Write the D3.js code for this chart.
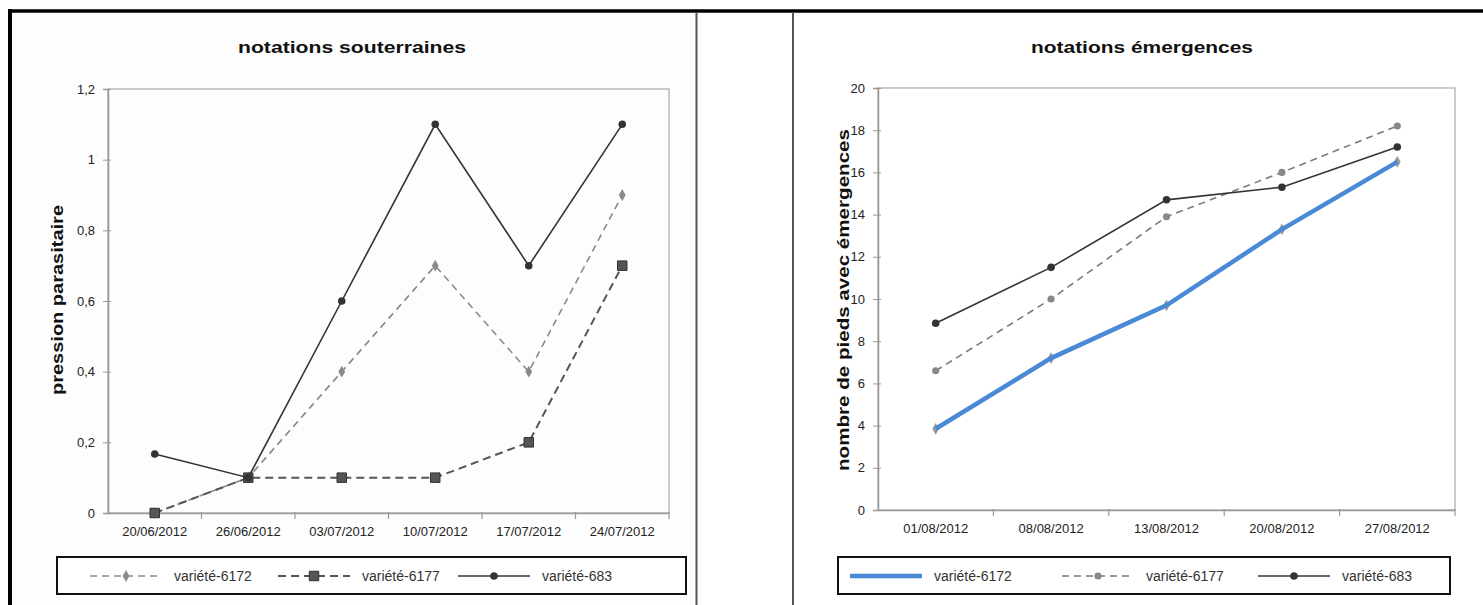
<!DOCTYPE html>
<html>
<head>
<meta charset="utf-8">
<script src="https://cdn.jsdelivr.net/npm/d3@7"></script>
<style>
  body { margin: 0; background: #fff; }
  svg { display: block; font-family: "Liberation Sans", Arial, sans-serif; }
  .title, .ytitle { font-weight: bold; fill: #111; }
  .tick text { fill: #222; }
</style>
</head>
<body>
<svg id="canvas" width="1483" height="605"></svg>
<script>
// left chart : notations souterraines
const souDates = ["20/06/2012", "26/06/2012", "03/07/2012", "10/07/2012", "17/07/2012", "24/07/2012"];
const sou6172 = [0, 0.1, 0.4, 0.7, 0.4, 0.9];
const sou6177 = [0, 0.1, 0.1, 0.1, 0.2, 0.7];
const sou683 = [0.167, 0.1, 0.6, 1.1, 0.7, 1.1];
const souTicks = [0, 0.2, 0.4, 0.6, 0.8, 1, 1.2];

// right chart : notations émergences
const emeDates = ["01/08/2012", "08/08/2012", "13/08/2012", "20/08/2012", "27/08/2012"];
const eme6172 = [3.85, 7.2, 9.7, 13.3, 16.5];
const eme6177 = [6.6, 10.0, 13.9, 16.0, 18.2];
const eme683 = [8.85, 11.5, 14.7, 15.3, 17.2];
const emeTicks = [0, 2, 4, 6, 8, 10, 12, 14, 16, 18, 20];

const svg = d3.select("#canvas");
const comma = (d) => String(d).replace(".", ",");

// panel frame
svg.append("rect").attr("x", 10).attr("y", 12).attr("width", 686).attr("height", 600).attr("fill", "#fdfdfd");
svg.append("line").attr("x1", 8).attr("x2", 1483).attr("y1", 11).attr("y2", 11)
  .attr("stroke", "#000").attr("stroke-width", 3.5);
svg.append("line").attr("x1", 10).attr("x2", 10).attr("y1", 9).attr("y2", 605)
  .attr("stroke", "#000").attr("stroke-width", 4);
[696.5, 793].forEach((x) => {
  svg.append("line").attr("x1", x).attr("x2", x).attr("y1", 12).attr("y2", 605)
    .attr("stroke", "#555").attr("stroke-width", 2);
});

const drawMarkers = (g, s, pts) => {
  if (!s.marker) return;
  const sym = d3.symbol().type(s.marker).size(s.markerSize);
  g.selectAll(null)
    .data(pts)
    .enter()
    .append("path")
    .attr("d", sym)
    .attr("transform", (p) => `translate(${p[0]},${p[1]})`)
    .attr("fill", s.markerFill)
    .attr("stroke", s.markerStroke || "none")
    .attr("stroke-width", 1);
};

const drawChart = (cfg) => {
  const x = d3.scaleBand().domain(cfg.dates).range(cfg.xRange);
  const y = d3.scaleLinear().domain(cfg.yDomain).range(cfg.yRange);
  const g = svg.append("g");

  // plot area border
  g.append("rect")
    .attr("x", cfg.xRange[0]).attr("y", cfg.yRange[1])
    .attr("width", cfg.xRange[1] - cfg.xRange[0])
    .attr("height", cfg.yRange[0] - cfg.yRange[1])
    .attr("fill", "none").attr("stroke", "#aaa").attr("stroke-width", 1.2);

  const yAxis = g.append("g")
    .attr("transform", `translate(${cfg.xRange[0]},0)`)
    .call(d3.axisLeft(y).tickValues(cfg.ticks).tickFormat(comma).tickSize(5).tickPadding(8));
  yAxis.select(".domain").attr("stroke", "#999").attr("stroke-width", 1.5);
  yAxis.selectAll(".tick line").attr("stroke", "#999").attr("x2", 3).attr("x1", -5);
  yAxis.selectAll(".tick text").attr("font-size", 13);

  const xAxis = g.append("g")
    .attr("transform", `translate(0,${cfg.yRange[0]})`)
    .call(d3.axisBottom(x).tickSize(0).tickPadding(14));
  xAxis.select(".domain").attr("stroke", "#999").attr("stroke-width", 1.5);
  xAxis.selectAll(".tick text").attr("font-size", 13);
  // tick marks between categories
  g.selectAll(".xsep")
    .data(cfg.dates)
    .enter()
    .append("line")
    .attr("x1", (d) => x(d) + x.bandwidth())
    .attr("x2", (d) => x(d) + x.bandwidth())
    .attr("y1", cfg.yRange[0] - 1)
    .attr("y2", cfg.yRange[0] + 6)
    .attr("stroke", "#999").attr("stroke-width", 1.2);

  g.append("text").attr("class", "title")
    .attr("x", cfg.titleX).attr("y", 53)
    .attr("text-anchor", "middle").attr("font-size", 17)
    .attr("textLength", cfg.titleLen).attr("lengthAdjust", "spacingAndGlyphs")
    .text(cfg.title);

  g.append("text").attr("class", "ytitle")
    .attr("transform", `translate(${cfg.yTitleX},${cfg.yTitleY}) rotate(-90)`)
    .attr("text-anchor", "middle").attr("font-size", 17)
    .attr("textLength", cfg.yTitleLen).attr("lengthAdjust", "spacingAndGlyphs")
    .text(cfg.yTitle);

  const cx = (i) => x(cfg.dates[i]) + x.bandwidth() / 2;

  cfg.series.forEach((s) => {
    const line = d3.line()
      .x((d, i) => cx(i))
      .y((d) => y(d));
    const pts = s.values.map((v, i) => [cx(i), y(v)]);
    if (s.markerUnder) drawMarkers(g, s, pts);
    g.append("path")
      .datum(s.values)
      .attr("fill", "none")
      .attr("stroke", s.color)
      .attr("stroke-width", s.width)
      .attr("stroke-dasharray", s.dash || null)
      .attr("d", line);
    if (!s.markerUnder) drawMarkers(g, s, pts);
  });

  // legend
  const lg = g.append("g");
  lg.append("rect")
    .attr("x", cfg.legend.x).attr("y", 557)
    .attr("width", cfg.legend.w).attr("height", 37)
    .attr("fill", "#fff").attr("stroke", "#111").attr("stroke-width", 2);
  cfg.series.forEach((s, i) => {
    const sx = cfg.legend.items[i];
    const ly = 576;
    lg.append("line")
      .attr("x1", sx).attr("x2", sx + 72).attr("y1", ly).attr("y2", ly)
      .attr("stroke", s.color).attr("stroke-width", s.width)
      .attr("stroke-dasharray", s.dash || null);
    if (!s.markerUnder) drawMarkers(lg, s, [[sx + 36, ly]]);
    lg.append("text")
      .attr("x", sx + 84).attr("y", ly + 5)
      .attr("font-size", 14).attr("fill", "#333")
      .text(s.name);
  });
};

drawChart({
  dates: souDates,
  xRange: [108, 669],
  yDomain: [0, 1.2],
  yRange: [513, 89],
  ticks: souTicks,
  title: "notations souterraines",
  titleX: 352,
  titleLen: 228,
  yTitle: "pression parasitaire",
  yTitleX: 63,
  yTitleY: 300,
  yTitleLen: 190,
  legend: { x: 57, w: 629, items: [90, 278, 458] },
  series: [
    { name: "variété-6172", values: sou6172, color: "#8a8a8a", width: 1.6, dash: "7,5",
      marker: d3.symbolDiamond, markerSize: 40, markerFill: "#8a8a8a" },
    { name: "variété-6177", values: sou6177, color: "#555", width: 2, dash: "8,5",
      marker: d3.symbolSquare, markerSize: 90, markerFill: "#555", markerStroke: "#333" },
    { name: "variété-683", values: sou683, color: "#333", width: 1.6,
      marker: d3.symbolCircle, markerSize: 45, markerFill: "#333" }
  ]
});

drawChart({
  dates: emeDates,
  xRange: [878, 1455],
  yDomain: [0, 20],
  yRange: [510, 88],
  ticks: emeTicks,
  title: "notations émergences",
  titleX: 1142,
  titleLen: 222,
  yTitle: "nombre de pieds avec émergences",
  yTitleX: 849,
  yTitleY: 300,
  yTitleLen: 342,
  legend: { x: 838, w: 612, items: [850, 1062, 1258] },
  series: [
    { name: "variété-6172", values: eme6172, color: "#4a89d6", width: 4.5,
      marker: d3.symbolDiamond, markerSize: 40, markerFill: "#999", markerUnder: true },
    { name: "variété-6177", values: eme6177, color: "#7a7a7a", width: 1.6, dash: "7,5",
      marker: d3.symbolCircle, markerSize: 40, markerFill: "#888" },
    { name: "variété-683", values: eme683, color: "#333", width: 1.6,
      marker: d3.symbolCircle, markerSize: 45, markerFill: "#333" }
  ]
});
</script>
</body>
</html>
